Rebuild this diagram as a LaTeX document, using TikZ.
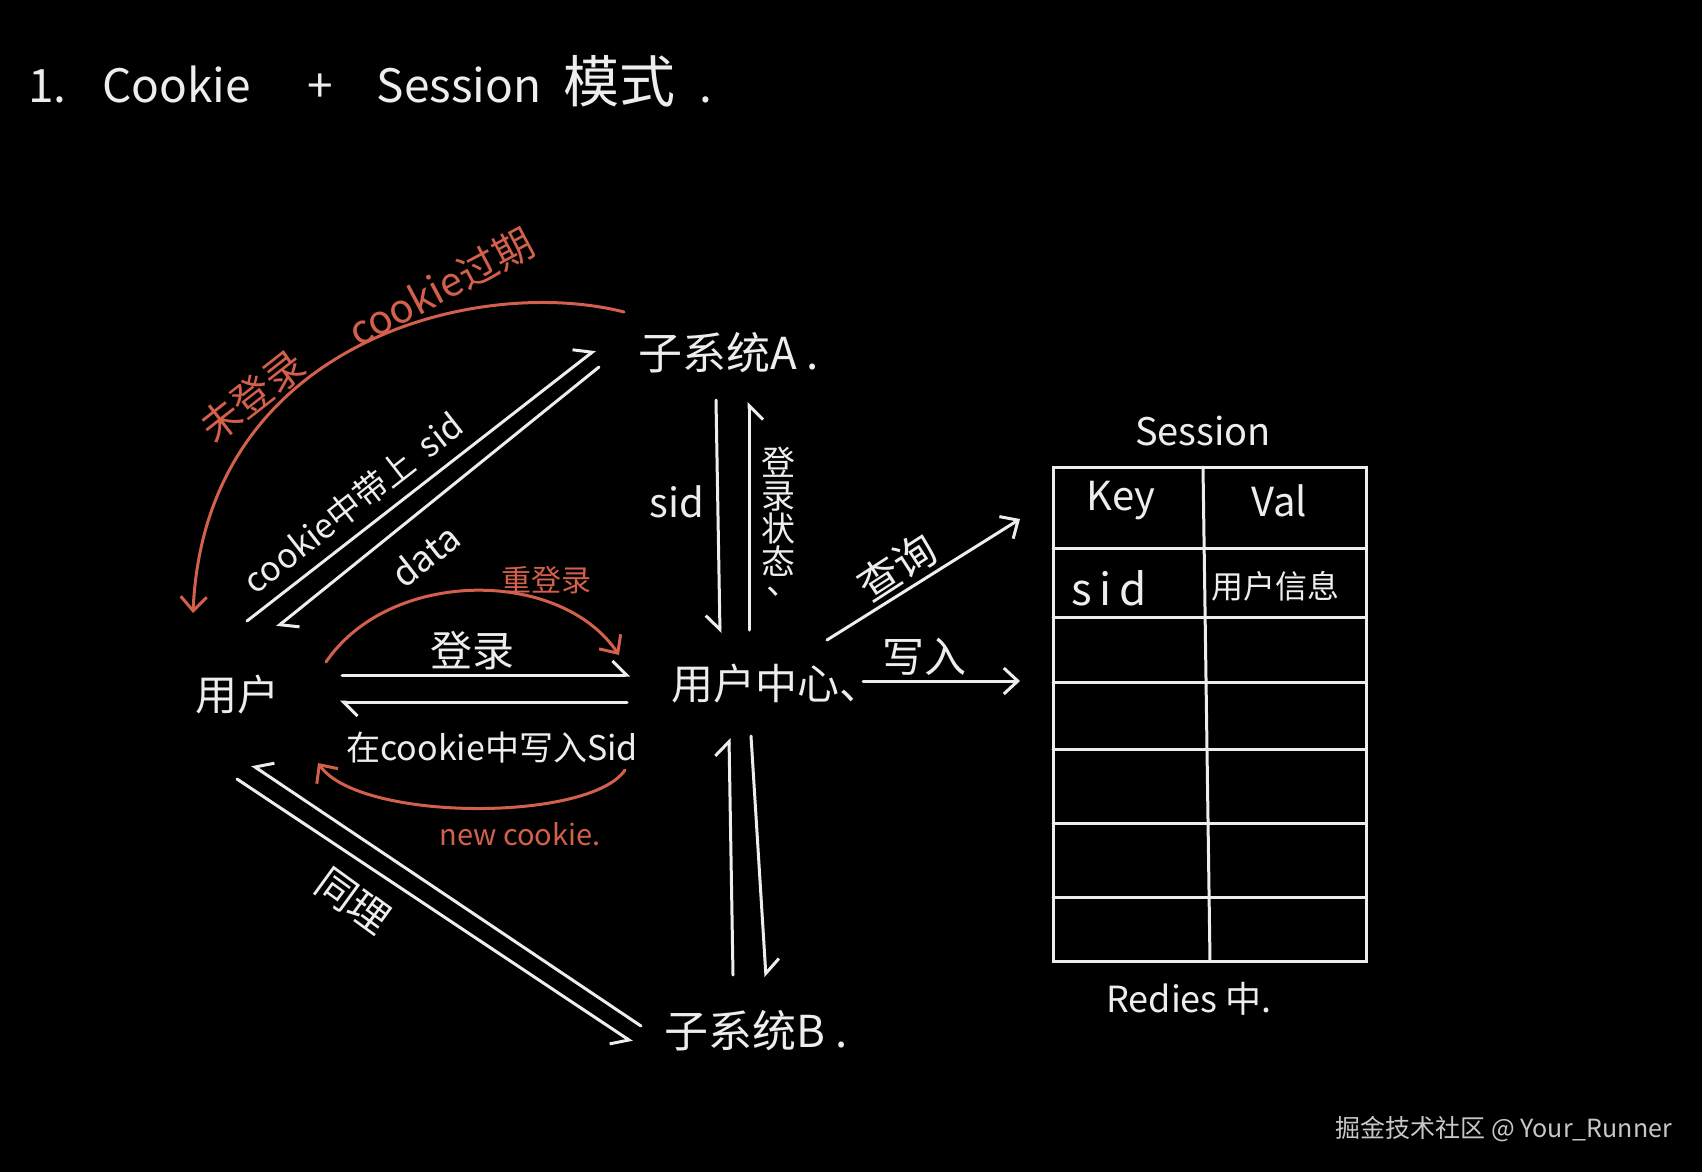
\documentclass[tikz,border=0pt]{standalone}
\usepackage{fontspec}
\setmainfont{Noto Sans CJK SC}
\usetikzlibrary{arrows.meta}
\definecolor{chalk}{HTML}{EDEDED}
\definecolor{redchalk}{HTML}{D2604C}
\definecolor{wmgray}{HTML}{C8C8C8}
\newcommand\fsz[1]{\fontsize{#1}{#1}\selectfont}
\begin{document}
\begin{tikzpicture}[x=1pt,y=-1pt,
  lbl/.style={text=chalk, inner sep=0pt},
  rlbl/.style={text=redchalk, inner sep=0pt},
  wline/.style={draw=chalk, line width=3pt, line cap=round},
  rline/.style={draw=redchalk, line width=3pt, line cap=round},
  hl/.style={-{Straight Barb[left,length=14pt,width=28pt]}},
  hr/.style={-{Straight Barb[right,length=14pt,width=28pt]}},
  fb/.style={-{Straight Barb[length=14pt,width=26pt]}}]
\fill[black] (0,0) rectangle (1702,1172);
\useasboundingbox (0,0) rectangle (1702,1172);

% title
\node[lbl, font=\fsz{46}, anchor=west] (title) at (28,81)
  {1.\hspace{36pt}Cookie\hspace{56pt}+\hspace{44pt}Session\hspace{22pt}{\fsz{56}模式}\hspace{24pt}.};

% main nodes
\node[lbl, font=\fsz{44}, anchor=west] (sysA) at (638,353) {子系统A\hspace{10pt}.};
\node[lbl, font=\fsz{42}, anchor=west] (uc) at (671,684) {用户中心、};
\node[lbl, font=\fsz{44}, anchor=west] (sysB) at (664,1031) {子系统B\hspace{10pt}.};
\node[lbl, font=\fsz{42}, anchor=west] (user) at (195,695) {用户};

% connector end points
\coordinate (c1s) at (247,621);  \coordinate (c1e) at (595,350);
\coordinate (c2s) at (599,367);  \coordinate (c2e) at (277,627);
\coordinate (r1s) at (624,312);  \coordinate (r1e) at (193,613);
\coordinate (c4s) at (342,675);  \coordinate (c4e) at (630,675);
\coordinate (c5s) at (627,702);  \coordinate (c5e) at (340,702);
\coordinate (r2s) at (326,662);  \coordinate (r2e) at (619,655);
\coordinate (r3s) at (625,770);  \coordinate (r3e) at (318,763);
\coordinate (c8s) at (716,400);  \coordinate (c8e) at (720,633);
\coordinate (c9s) at (749,630);  \coordinate (c9e) at (749,402);
\coordinate (c10s) at (733,975); \coordinate (c10e) at (729,738);
\coordinate (c11s) at (751,736); \coordinate (c11e) at (766,977);
\coordinate (c12s) at (641,1026); \coordinate (c12e) at (252,765);
\coordinate (c13s) at (237,779); \coordinate (c13e) at (632,1042);
\coordinate (c14s) at (827,640); \coordinate (c14e) at (1020,519);
\coordinate (c15s) at (863,681); \coordinate (c15e) at (1020,681);

% white connectors
\draw[wline,hl] (c1s) -- (c1e);
\draw[wline,hl] (c2s) -- (c2e);
\draw[wline,hl] (c4s) -- (c4e);
\draw[wline,hl] (c5s) -- (c5e);
\draw[wline,hr] (c8s) -- (c8e);
\draw[wline,hr] (c9s) -- (c9e);
\draw[wline,hl] (c10s) -- (c10e);
\draw[wline,hl] (c11s) -- (c11e);
\draw[wline,hr] (c12s) -- (c12e);
\draw[wline,hr] (c13s) -- (c13e);
\draw[wline,fb] (c14s) -- (c14e);
\draw[wline,fb] (c15s) -- (c15e);

% red arcs
\draw[rline,fb] (r1s) .. controls (480,275) and (205,340) .. (r1e);
\draw[rline,fb] (r2s) .. controls (390,568) and (560,568) .. (r2e);
\draw[rline,fb] (r3s) .. controls (590,822) and (360,822) .. (r3e);

% labels
\node[lbl, font=\fsz{34}, rotate=38] (lsid) at (353,503) {cookie中带上\hspace{14pt}sid};
\node[lbl, font=\fsz{36}, rotate=38] (ldata) at (425,555) {data};
\node[rlbl, font=\fsz{40}, rotate=38] (lwdl) at (252,396) {未登录};
\node[rlbl, font=\fsz{40}, rotate=28] (lexp) at (441,287) {cookie过期};
\node[rlbl, font=\fsz{30}] (lcdl) at (546,580) {重登录};
\node[lbl, font=\fsz{42}] (ldl) at (472,651) {登录};
\node[lbl, font=\fsz{34}] (lwrite) at (492,748) {在cookie中写入Sid};
\node[rlbl, font=\fsz{29}] (lnew) at (520,834) {new cookie.};
\node[lbl, font=\fsz{40}] (lsid2) at (677,502) {sid};
\node[lbl, font=\fsz{34}, align=center] (lstate) at (778,522) {登\\[-1pt]录\\[-1pt]状\\[-1pt]态\\[-14pt]\hspace{10pt}、};
\node[lbl, font=\fsz{42}, rotate=33] (lquery) at (897,567) {查询};
\node[lbl, font=\fsz{42}] (lwr) at (924,657) {写入};
\node[lbl, font=\fsz{40}, rotate=-36] (lsame) at (353,901) {同理};

% session table
\node[lbl, font=\fsz{38}] (lsess) at (1203,431) {Session};
\draw[wline] (1053,467) rectangle (1366,961);
\foreach \yy in {548,617,682,749,823,897} \draw[wline] (1053,\yy) -- (1366,\yy);
\draw[wline] (1203,467) -- (1210,961);
\node[lbl, font=\fsz{40}] (lkey) at (1121,501) {Key};
\node[lbl, font=\fsz{40}] (lval) at (1279,501) {Val};
\node[lbl, font=\fsz{44}] (lsid3) at (1109,588) {s\,i\,d};
\node[lbl, font=\fsz{32}] (linfo) at (1275,586) {用户信息};
\node[lbl, font=\fsz{36}] (lredis) at (1189,999) {Redies 中.};

% watermark
\node[anchor=east, text=wmgray, inner sep=0pt, font=\fsz{25}] (wm) at (1672,1129) {掘金技术社区 @ Your\_Runner};
\end{tikzpicture}
\end{document}
